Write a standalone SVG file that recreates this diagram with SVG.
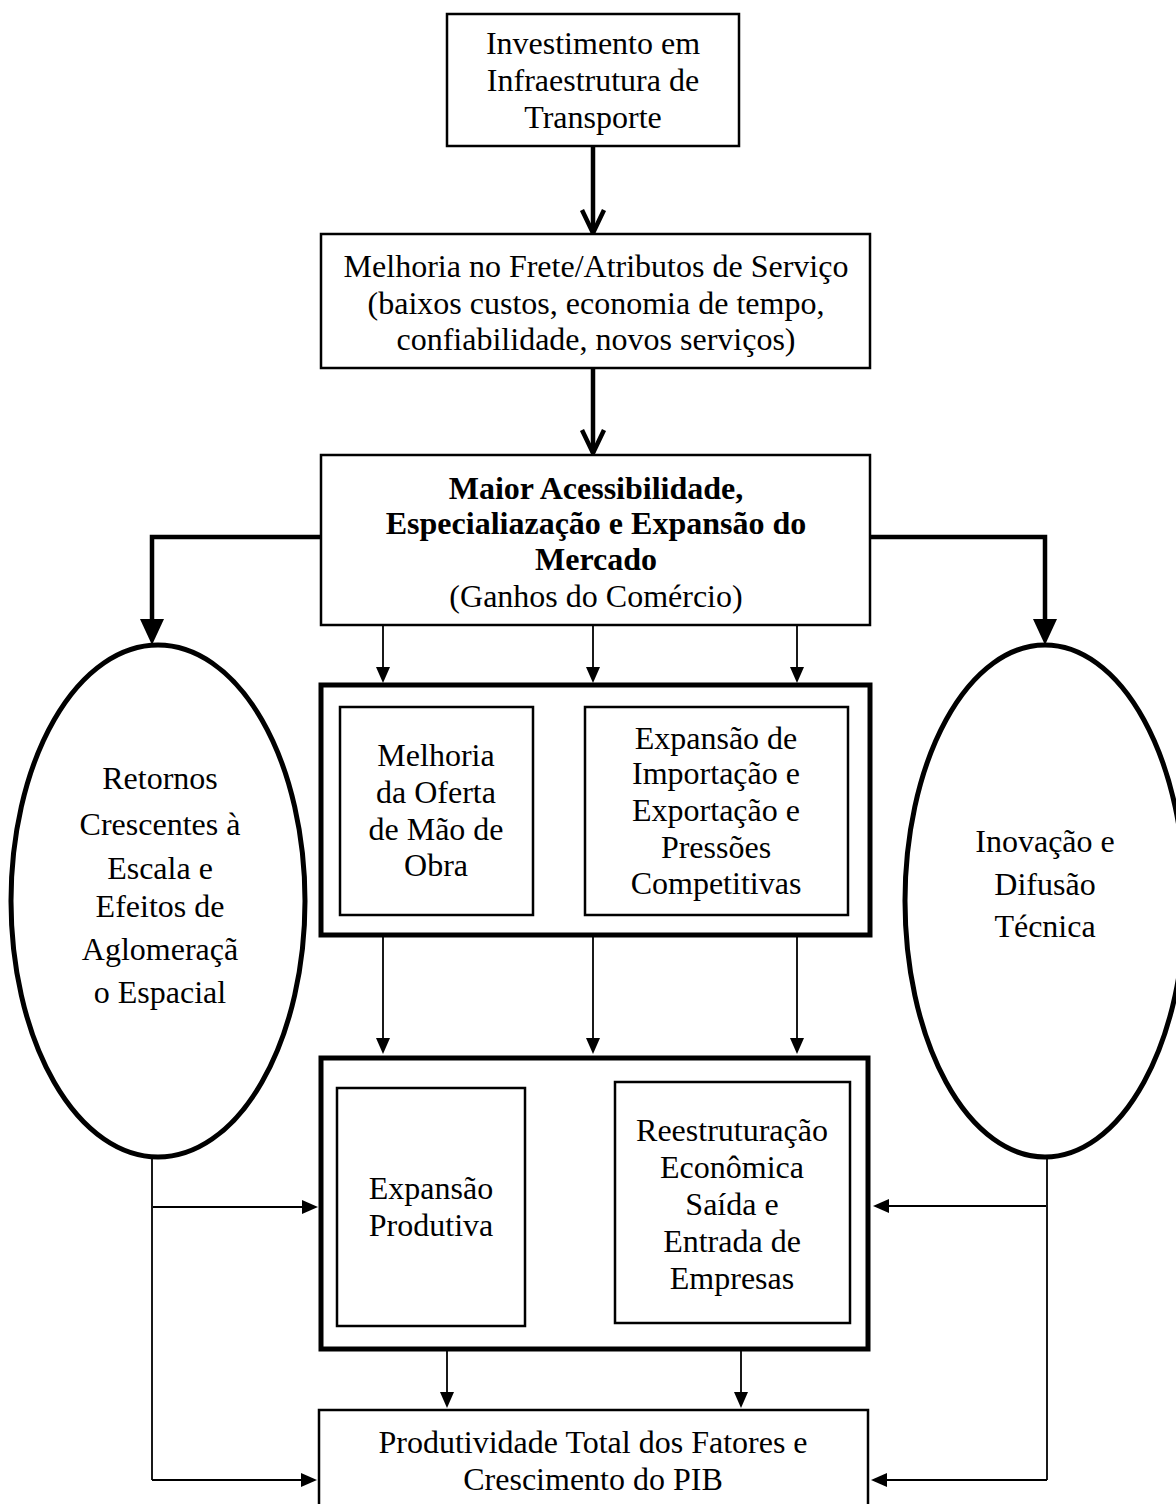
<svg xmlns="http://www.w3.org/2000/svg" width="1176" height="1504" viewBox="0 0 1176 1504">
<style>
.t{font-family:"Liberation Serif","Times New Roman",serif;font-size:32px;fill:#000;text-anchor:middle}
.b{font-weight:bold}
.box{fill:#fff;stroke:#000;stroke-width:2.5}
.thick{fill:#fff;stroke:#000;stroke-width:5}
.ell{fill:#fff;stroke:#000;stroke-width:5}
.thin{fill:none;stroke:#000;stroke-width:1.8}
.bold{fill:none;stroke:#000;stroke-width:4.5}
</style>
<defs>
<marker id="chev" markerUnits="userSpaceOnUse" viewBox="0 0 28 28" markerWidth="28" markerHeight="28" refX="25" refY="14" orient="auto">
<path d="M2,3 L25,14 L2,25" fill="none" stroke="#000" stroke-width="4.5"/>
</marker>
<marker id="big" markerUnits="userSpaceOnUse" viewBox="0 0 26 24" markerWidth="26" markerHeight="24" refX="1" refY="12" orient="auto">
<path d="M0,0 L26,12 L0,24 z" fill="#000"/>
</marker>
<marker id="sm" markerUnits="userSpaceOnUse" viewBox="0 0 16 14" markerWidth="16" markerHeight="14" refX="1" refY="7" orient="auto">
<path d="M0,0 L16,7 L0,14 z" fill="#000"/>
</marker>
</defs>
<rect width="1176" height="1504" fill="#fff"/>

<g id="connectors">
<line class="bold" x1="593" y1="146" x2="593" y2="233" marker-end="url(#chev)"/>
<line class="bold" x1="593" y1="368" x2="593" y2="453" marker-end="url(#chev)"/>
<polyline class="bold" points="321,537 152,537 152,620" marker-end="url(#big)"/>
<polyline class="bold" points="870,537 1045,537 1045,620" marker-end="url(#big)"/>
<line class="thin" x1="383" y1="626" x2="383" y2="668" marker-end="url(#sm)"/>
<line class="thin" x1="593" y1="626" x2="593" y2="668" marker-end="url(#sm)"/>
<line class="thin" x1="797" y1="626" x2="797" y2="668" marker-end="url(#sm)"/>
<line class="thin" x1="383" y1="937" x2="383" y2="1039" marker-end="url(#sm)"/>
<line class="thin" x1="593" y1="937" x2="593" y2="1039" marker-end="url(#sm)"/>
<line class="thin" x1="797" y1="937" x2="797" y2="1039" marker-end="url(#sm)"/>
<line class="thin" x1="615" y1="1209" x2="542" y2="1209" marker-end="url(#sm)"/>
<line class="thin" x1="152" y1="1157" x2="152" y2="1480"/>
<line class="thin" x1="153" y1="1207" x2="303" y2="1207" marker-end="url(#sm)"/>
<line class="thin" x1="152" y1="1480" x2="302" y2="1480" marker-end="url(#sm)"/>
<line class="thin" x1="1047" y1="1157" x2="1047" y2="1480"/>
<line class="thin" x1="1046" y1="1206" x2="888" y2="1206" marker-end="url(#sm)"/>
<line class="thin" x1="1047" y1="1480" x2="886" y2="1480" marker-end="url(#sm)"/>
<line class="thin" x1="447" y1="1351" x2="447" y2="1393" marker-end="url(#sm)"/>
<line class="thin" x1="741" y1="1351" x2="741" y2="1393" marker-end="url(#sm)"/>
</g>

<g id="n1">
<rect class="box" x="447" y="14" width="292" height="132"/>
<text class="t" x="593" y="54">Investimento em</text>
<text class="t" x="593" y="91">Infraestrutura de</text>
<text class="t" x="593" y="128">Transporte</text>
</g>

<g id="n2">
<rect class="box" x="321" y="234" width="549" height="134"/>
<text class="t" x="596" y="277">Melhoria no Frete/Atributos de Serviço</text>
<text class="t" x="596" y="314">(baixos custos, economia de tempo,</text>
<text class="t" x="596" y="350">confiabilidade, novos serviços)</text>
</g>

<g id="n3">
<rect class="box" x="321" y="455" width="549" height="170"/>
<text class="t b" x="596" y="499">Maior Acessibilidade,</text>
<text class="t b" x="596" y="534">Especialiazação e Expansão do</text>
<text class="t b" x="596" y="570">Mercado</text>
<text class="t" x="596" y="607">(Ganhos do Comércio)</text>
</g>

<g id="n4">
<ellipse class="ell" cx="158" cy="901" rx="147" ry="256"/>
<text class="t" x="160" y="789">Retornos</text>
<text class="t" x="160" y="835">Crescentes à</text>
<text class="t" x="160" y="879">Escala e</text>
<text class="t" x="160" y="917">Efeitos de</text>
<text class="t" x="160" y="960">Aglomeraçã</text>
<text class="t" x="160" y="1003">o Espacial</text>
</g>

<g id="n5">
<ellipse class="ell" cx="1045" cy="901" rx="140" ry="256"/>
<text class="t" x="1045" y="852">Inovação e</text>
<text class="t" x="1045" y="895">Difusão</text>
<text class="t" x="1045" y="937">Técnica</text>
</g>

<g id="n6">
<rect class="thick" x="321" y="685" width="549" height="250"/>
<rect class="box" x="340" y="707" width="193" height="208"/>
<text class="t" x="436" y="766">Melhoria</text>
<text class="t" x="436" y="803">da Oferta</text>
<text class="t" x="436" y="840">de Mão de</text>
<text class="t" x="436" y="876">Obra</text>
<rect class="box" x="585" y="707" width="263" height="208"/>
<text class="t" x="716" y="749">Expansão de</text>
<text class="t" x="716" y="784">Importação e</text>
<text class="t" x="716" y="821">Exportação e</text>
<text class="t" x="716" y="858">Pressões</text>
<text class="t" x="716" y="894">Competitivas</text>
</g>

<g id="n7">
<rect class="thick" x="321" y="1058" width="547" height="291"/>
<rect class="box" x="337" y="1088" width="188" height="238"/>
<text class="t" x="431" y="1199">Expansão</text>
<text class="t" x="431" y="1236">Produtiva</text>
<rect class="box" x="615" y="1082" width="235" height="241"/>
<text class="t" x="732" y="1141">Reestruturação</text>
<text class="t" x="732" y="1178">Econômica</text>
<text class="t" x="732" y="1215">Saída e</text>
<text class="t" x="732" y="1252">Entrada de</text>
<text class="t" x="732" y="1289">Empresas</text>
</g>

<g id="n8">
<rect class="box" x="319" y="1410" width="549" height="110"/>
<text class="t" x="593" y="1453">Produtividade Total dos Fatores e</text>
<text class="t" x="593" y="1490">Crescimento do PIB</text>
</g>
</svg>
